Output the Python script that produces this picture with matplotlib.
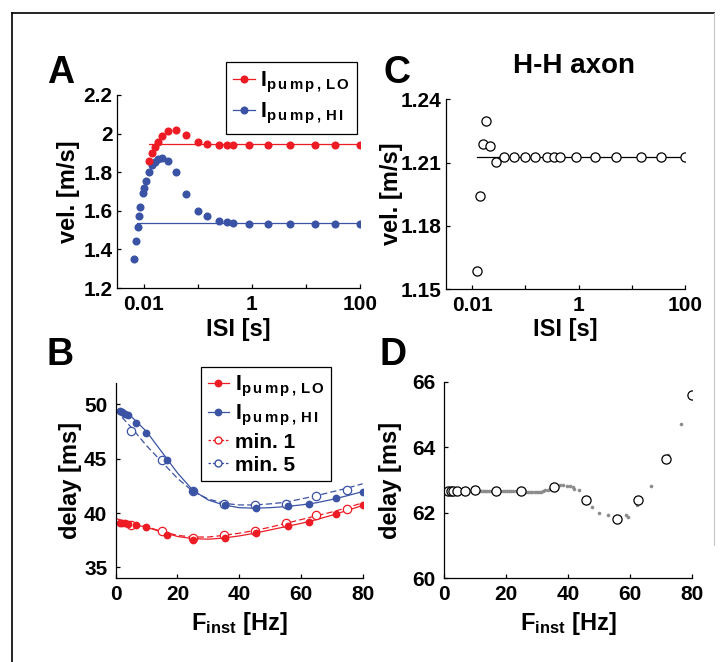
import matplotlib
matplotlib.use('Agg')
import matplotlib.pyplot as plt
from matplotlib.lines import Line2D
from matplotlib.legend_handler import HandlerLine2D
from matplotlib.ticker import NullLocator

# ---- data ----
# A: conduction velocity vs ISI (log axis)
isi = [0.0125, 0.014, 0.016, 0.018, 0.022, 0.028, 0.04, 0.06, 0.1, 0.15,
       0.25, 0.35, 0.45, 0.9, 2, 5, 15, 35, 100]
vel_lo = [1.86, 1.898, 1.933, 1.959, 1.988, 2.014, 2.019, 1.993, 1.957, 1.948,
          1.941, 1.941, 1.941, 1.941, 1.941, 1.941, 1.941, 1.941, 1.941]
isi_hi_extra = [0.0066, 0.0072, 0.0077, 0.0081, 0.0086, 0.0096, 0.0101, 0.011]
vel_hi_extra = [1.35, 1.443, 1.515, 1.574, 1.622, 1.691, 1.717, 1.752]
vel_hi = [1.803, 1.838, 1.855, 1.867, 1.872, 1.86, 1.80, 1.686, 1.60, 1.571,
          1.545, 1.54, 1.536, 1.533, 1.533, 1.533, 1.533, 1.534, 1.534]
steady_lo = 1.945
steady_hi = 1.536
steady_lo_start = 0.0125
steady_hi_start = 0.0074

# B: delay vs instantaneous frequency
f_inst = [1.3, 2.2, 2.9, 4.0, 6.7, 9.9, 16.6, 24.9, 35.5, 45.6, 55.7, 62.6, 71.5, 80.0]
delay_lo = [39.12, 39.09, 39.06, 39.02, 38.93, 38.72, 38.02, 37.5, 37.74, 38.2,
            38.78, 39.2, 39.94, 40.7]
delay_hi = [49.39, 49.3, 49.15, 49.0, 48.3, 47.4, 44.9, 42.07, 40.7, 40.49,
            40.64, 40.85, 41.4, 41.98]
f_min = [5, 15, 25, 35, 45, 55, 65, 75]
delay_min1 = [38.95, 38.32, 37.74, 38.0, 38.35, 39.1, 39.8, 40.4]
delay_min5 = [47.6, 44.88, 42.0, 40.85, 40.7, 40.85, 41.55, 42.13]
# fitted curves
fit_f = [1, 5, 10, 15, 20, 25, 30, 35, 40, 45, 50, 55, 60, 65, 70, 75, 80]
fit_lo = [39.15, 39.0, 38.7, 38.25, 37.85, 37.65, 37.6, 37.7, 37.9, 38.15,
          38.45, 38.75, 39.05, 39.4, 39.8, 40.25, 40.7]
fit_hi = [49.5, 48.9, 47.5, 45.6, 43.7, 42.1, 41.2, 40.75, 40.5, 40.45,
          40.5, 40.6, 40.75, 40.95, 41.25, 41.6, 41.98]
fit_f_min = [0, 5, 10, 15, 20, 25, 30, 35, 40, 45, 50, 55, 60, 65, 70, 75, 80]
fit_min1 = [39.5, 39.1, 38.75, 38.3, 37.95, 37.8, 37.8, 37.95, 38.15, 38.4,
            38.7, 39.05, 39.4, 39.75, 40.1, 40.5, 40.95]
fit_min5 = [49.45, 47.9, 46.2, 44.7, 43.2, 42.0, 41.3, 40.9, 40.75, 40.75,
            40.85, 41.0, 41.3, 41.6, 41.95, 42.3, 42.7]

# C: H-H axon velocity
vel_hh = [1.1587, 1.1943, 1.2187, 1.2299, 1.218, 1.2104, 1.2127, 1.2127, 1.2127,
          1.2127, 1.2127, 1.2127, 1.2127, 1.2127, 1.2127, 1.2127, 1.2127, 1.2127, 1.2127]
steady_hh = 1.2127

# D: H-H delay
delay_hh = [62.67, 62.67, 62.67, 62.67, 62.67, 62.68, 62.67, 62.67, 62.8, 62.39,
            61.8, 62.38, 63.63, 65.59]
gray_f = [10.6, 11.2, 11.9, 12.5, 13.1, 13.8, 14.4, 15.1, 15.8, 17.4, 18.1, 18.8,
          19.5, 20.2, 20.9, 21.6, 22.3, 23.0, 23.7, 24.3, 25.6, 26.3, 27.0, 27.7,
          28.4, 29.1, 29.8, 30.5, 31.2, 31.9, 32.6, 33.3, 34.0, 34.7, 37.3, 38.4,
          39.5, 40.5, 41.6, 41.9, 43.5, 47.6, 50.0, 52.7, 55.0, 58.7, 59.1, 62.3,
          66.8, 72.1, 76.5]
gray_d = [62.66, 62.66, 62.66, 62.66, 62.66, 62.66, 62.66, 62.66, 62.66, 62.66,
          62.66, 62.66, 62.66, 62.66, 62.66, 62.66, 62.66, 62.66, 62.66, 62.66,
          62.65, 62.64, 62.63, 62.62, 62.62, 62.62, 62.62, 62.63, 62.64, 62.66,
          62.68, 62.71, 62.74, 62.77, 62.84, 62.84, 62.82, 62.81, 62.79, 62.74,
          62.69, 62.19, 61.98, 61.93, 61.87, 61.93, 61.88, 62.24, 62.82, 63.76,
          64.71]

RED = '#ed1c24'
BLUE = '#3a53a4'
GRAY = '#8c8c8c'

plt.rcParams['font.family'] = ['Liberation Sans', 'DejaVu Sans']
plt.rcParams['font.weight'] = 'bold'
plt.rcParams['axes.labelweight'] = 'bold'
plt.rcParams['mathtext.fontset'] = 'custom'
plt.rcParams['mathtext.rm'] = 'Liberation Sans:bold'
plt.rcParams['mathtext.bf'] = 'Liberation Sans:bold'
plt.rcParams['mathtext.it'] = 'Liberation Sans:bold'
plt.rcParams['mathtext.sf'] = 'Liberation Sans:bold'

W, H = 722, 662
TICK_FS = 15
LABEL_FS = 17
LEG_FS = 15.5
fig = plt.figure(figsize=(W / 100, H / 100), dpi=100)

# legend labels, subscripts letter-spaced like the original
LAB_LO = r'I$_{\rm p\,u\,m\,p\,,\,L\,O}$'
LAB_HI = r'I$_{\rm p\,u\,m\,p\,,\,H\,I}$'


def px_rect(l, t, r, b):
    # pixel box -> figure fraction
    return [l / W, 1 - b / H, (r - l) / W, (b - t) / H]


class RightMarker(HandlerLine2D):
    # marker at the right end of the legend line, like the original
    def get_xdata(self, legend, xdescent, ydescent, width, height, fontsize):
        xdata = [-xdescent, -xdescent + width]
        return xdata, [-xdescent + width * 0.85]


def style(ax, tick_pad_y=4):
    for s in ['top', 'right']:
        ax.spines[s].set_visible(False)
    for s in ['left', 'bottom']:
        ax.spines[s].set_linewidth(0.9)
    ax.tick_params(direction='in', length=3, width=0.9, labelsize=TICK_FS)
    ax.tick_params(axis='x', pad=5)
    ax.tick_params(axis='y', pad=tick_pad_y)


# ---- A ----
axA = fig.add_axes(px_rect(116.7, 95, 360, 288))
axA.set_xscale('log')
axA.plot([steady_lo_start, 100], [steady_lo, steady_lo], color=RED, lw=0.9)
axA.plot([steady_hi_start, 100], [steady_hi, steady_hi], color=BLUE, lw=0.9)
axA.plot(isi_hi_extra + isi, vel_hi_extra + vel_hi, 'o', color=BLUE, ms=5.8, mec='none')
axA.plot(isi, vel_lo, 'o', color=RED, ms=5.8, mec='none')
axA.set_xlim(10 ** -2.5, 100)
axA.set_ylim(1.2, 2.2)
axA.set_xticks([0.01, 0.1, 1, 10, 100])
axA.set_xticklabels(['0.01', '', '1', '', '100'])
axA.xaxis.set_minor_locator(NullLocator())
axA.set_yticks([1.2, 1.4, 1.6, 1.8, 2.0, 2.2])
axA.set_yticklabels(['1.2', '1.4', '1.6', '1.8', '2', '2.2'])
style(axA, tick_pad_y=3)
axA.set_xlabel('ISI [s]', fontsize=LABEL_FS)
axA.set_ylabel('vel. [m/s]', fontsize=LABEL_FS)
axA.xaxis.set_label_coords(0.5, -0.155)
axA.yaxis.set_label_coords(-0.151, 0.5)

hA = [Line2D([], [], color=RED, lw=0.9, marker='o', ms=5.8, mec='none'),
      Line2D([], [], color=BLUE, lw=0.9, marker='o', ms=5.8, mec='none')]
legA = axA.legend(hA, [LAB_LO, LAB_HI],
                  loc='upper right', bbox_to_anchor=(357.3 / W, 1 - 62.3 / H),
                  bbox_transform=fig.transFigure, borderaxespad=0,
                  fancybox=False, framealpha=1, edgecolor='black',
                  fontsize=LEG_FS, handlelength=1.0, handletextpad=0.25,
                  labelspacing=0.3, borderpad=0.35,
                  handler_map={Line2D: RightMarker()})
legA.get_frame().set_linewidth(0.9)

# ---- B ----
axB = fig.add_axes(px_rect(115.7, 382.7, 362.7, 578.3))
axB.plot(fit_f, fit_hi, '-', color=BLUE, lw=0.9)
axB.plot(fit_f_min, fit_min5, '--', color=BLUE, lw=0.9, dashes=(5, 2.5))
axB.plot(fit_f, fit_lo, '-', color=RED, lw=0.9)
axB.plot(fit_f_min, fit_min1, '--', color=RED, lw=0.9, dashes=(5, 2.5))
axB.plot(f_min, delay_min5, 'o', mfc='white', mec=BLUE, ms=6, mew=0.9)
axB.plot(f_min, delay_min1, 'o', mfc='white', mec=RED, ms=6, mew=0.9)
axB.plot(f_inst, delay_hi, 'o', color=BLUE, ms=5.6, mec='none')
axB.plot(f_inst, delay_lo, 'o', color=RED, ms=5.6, mec='none')
axB.set_xlim(0, 80)
axB.set_ylim(34, 52)
axB.set_xticks([0, 20, 40, 60, 80])
axB.set_yticks([35, 40, 45, 50])
style(axB, tick_pad_y=6)
axB.set_xlabel(r'F$_{\rm inst}$ [Hz]', fontsize=LABEL_FS)
axB.set_ylabel('delay [ms]', fontsize=LABEL_FS)
axB.xaxis.set_label_coords(0.5, -0.16)
axB.yaxis.set_label_coords(-0.136, 0.5)

hB = [Line2D([], [], color=RED, lw=0.9, marker='o', ms=5.6, mec='none'),
      Line2D([], [], color=BLUE, lw=0.9, marker='o', ms=5.6, mec='none'),
      Line2D([], [], color=RED, lw=0.9, ls=(0, (2, 1.5)), marker='o', ms=5, mfc='white', mec=RED),
      Line2D([], [], color=BLUE, lw=0.9, ls=(0, (2, 1.5)), marker='o', ms=5, mfc='white', mec=BLUE)]
legB = axB.legend(hB, [LAB_LO, LAB_HI, 'min. 1', 'min. 5'],
                  loc='upper right', bbox_to_anchor=(330.7 / W, 1 - 367.3 / H),
                  bbox_transform=fig.transFigure, borderaxespad=0,
                  fancybox=False, framealpha=1, edgecolor='black',
                  fontsize=LEG_FS, handlelength=1.0, handletextpad=0.25,
                  labelspacing=0.2, borderpad=0.3,
                  handler_map={Line2D: RightMarker()})
legB.get_frame().set_linewidth(0.9)
for t in legB.get_texts()[2:]:
    t.set_fontsize(15)

# ---- C ----
axC = fig.add_axes(px_rect(445.7, 99.3, 685, 289))
axC.set_xscale('log')
axC.plot([0.0125, 100], [steady_hh, steady_hh], color='black', lw=0.9)
axC.plot(isi, vel_hh, 'o', mfc='white', mec='black', ms=6.6, mew=0.9)
axC.set_xlim(10 ** -2.5, 100)
axC.set_ylim(1.15, 1.24)
axC.set_xticks([0.01, 0.1, 1, 10, 100])
axC.set_xticklabels(['0.01', '', '1', '', '100'])
axC.xaxis.set_minor_locator(NullLocator())
axC.set_yticks([1.15, 1.18, 1.21, 1.24])
style(axC, tick_pad_y=3)
axC.set_xlabel('ISI [s]', fontsize=LABEL_FS)
axC.set_ylabel('vel. [m/s]', fontsize=LABEL_FS)
axC.xaxis.set_label_coords(0.5, -0.153)
axC.yaxis.set_label_coords(-0.178, 0.5)

# ---- D ----
axD = fig.add_axes(px_rect(444.3, 381.7, 692.3, 578.3))
axD.plot(gray_f, gray_d, 'o', color=GRAY, ms=2.6, mec='none')
axD.plot(f_inst, delay_hh, 'o', mfc='white', mec='black', ms=6.6, mew=0.9)
axD.set_xlim(0, 80)
axD.set_ylim(60, 66)
axD.set_xticks([0, 20, 40, 60, 80])
axD.set_yticks([60, 62, 64, 66])
style(axD, tick_pad_y=6)
axD.set_xlabel(r'F$_{\rm inst}$ [Hz]', fontsize=LABEL_FS)
axD.set_ylabel('delay [ms]', fontsize=LABEL_FS)
axD.xaxis.set_label_coords(0.5, -0.16)
axD.yaxis.set_label_coords(-0.171, 0.5)

# ---- panel letters, title, frame ----
for letter, x, y in [('A', 61, 73), ('B', 60, 355), ('C', 397, 73), ('D', 393, 355)]:
    fig.text(x / W, 1 - y / H, letter, fontsize=27, fontweight='bold',
             ha='center', va='center')
fig.text(574 / W, 1 - 66 / H, 'H-H axon', fontsize=20, fontweight='bold',
         ha='center', va='center')

fig.add_artist(Line2D([11.5 / W, 11.5 / W], [0, 1 - 13 / H], color='black', lw=1.2))
fig.add_artist(Line2D([11.5 / W, 714 / W], [1 - 13 / H, 1 - 13 / H], color='black', lw=1.2))
fig.add_artist(Line2D([714 / W, 714 / W], [1 - 545 / H, 1 - 13 / H], color='#c8c8c8', lw=0.8))

fig.savefig('out.png', dpi=100)
